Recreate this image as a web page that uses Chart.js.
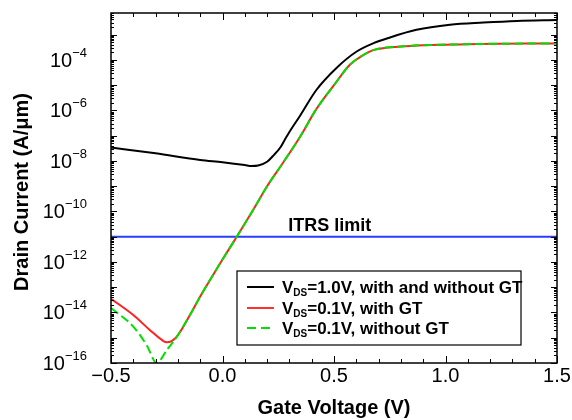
<!DOCTYPE html>
<html>
<head>
<meta charset="utf-8">
<script src="https://cdn.jsdelivr.net/npm/chart.js@4/dist/chart.umd.min.js"></script>
<style>
  html, body { margin: 0; padding: 0; background: #fff; }
  canvas { display: block; }
</style>
</head>
<body>
<canvas id="chart" width="572" height="420"></canvas>
<script>
// gate voltage (V) and drain current (A/um)
const vds10V = [-0.5, -0.3, -0.1, 0.0, 0.1, 0.13, 0.16, 0.2, 0.23, 0.26, 0.28, 0.3, 0.35, 0.42, 0.51, 0.6, 0.68, 0.74, 0.87, 1.02, 1.17, 1.32, 1.5];
const vds10I = [3.4e-8, 2.0e-8, 1.1e-8, 8.9e-9, 6.9e-9, 6.3e-9, 6.6e-9, 9.3e-9, 1.7e-8, 3.5e-8, 7.1e-8, 1.4e-7, 6.6e-7, 6.3e-6, 4.7e-5, 2.1e-4, 4.7e-4, 7.2e-4, 1.55e-3, 2.45e-3, 3.0e-3, 3.5e-3, 3.8e-3];

const withGtV = [-0.5, -0.4, -0.325, -0.265, -0.25, -0.228, -0.205, -0.146, -0.1, -0.056, 0.0, 0.064, 0.14, 0.2, 0.273, 0.348, 0.42, 0.5, 0.57, 0.62, 0.68, 0.8, 1.1, 1.5];
const withGtI = [3.5e-14, 7.9e-15, 2.0e-15, 7.4e-16, 6.6e-16, 7.4e-16, 1.1e-15, 7.9e-15, 4.3e-14, 1.95e-13, 1.26e-12, 1.0e-11, 1.26e-10, 1.0e-9, 8.9e-9, 9.1e-8, 1.1e-6, 1.0e-5, 6.3e-5, 1.35e-4, 2.5e-4, 3.4e-4, 4.2e-4, 4.5e-4];

const noGtV = [-0.5, -0.4, -0.34, -0.295, -0.25, -0.205, -0.146, -0.1, -0.056, 0.0, 0.064, 0.14, 0.2, 0.273, 0.348, 0.42, 0.5, 0.57, 0.62, 0.68, 0.8, 1.1, 1.5];
const noGtI = [1.5e-14, 2.75e-15, 5.1e-16, 1.0e-16, 3.2e-16, 1.1e-15, 7.9e-15, 4.3e-14, 1.95e-13, 1.26e-12, 1.0e-11, 1.26e-10, 1.0e-9, 8.9e-9, 9.1e-8, 1.1e-6, 1.0e-5, 6.3e-5, 1.35e-4, 2.5e-4, 3.4e-4, 4.2e-4, 4.5e-4];

const itrsV = [-0.5, 1.5];
const itrsI = [1e-11, 1e-11];

const xTicks = [-0.5, 0.0, 0.5, 1.0, 1.5];
const xTickLabels = ["\u22120.5", "0.0", "0.5", "1.0", "1.5"];
const yTickExps = [-16, -14, -12, -10, -8, -6, -4];

const legendLabels = [
    ["V", "DS", "=1.0V, with and without GT"],
    ["V", "DS", "=0.1V, with GT"],
    ["V", "DS", "=0.1V, without GT"]
];

const pts = (xs, ys) => xs.map((v, i) => ({ x: v, y: ys[i] }));
const FONT = "'Liberation Sans', Arial, Helvetica, sans-serif";

const decorations = {
    id: "decorations",
    afterDraw(chart) {
        const { ctx, chartArea: a, scales: { x, y } } = chart;
        ctx.save();

        // ITRS label
        ctx.fillStyle = "#000";
        ctx.font = "bold 18px " + FONT;
        ctx.textAlign = "left";
        ctx.textBaseline = "alphabetic";
        ctx.fillText("ITRS limit", x.getPixelForValue(0.295), y.getPixelForValue(1e-11) - 6);

        // frame
        ctx.strokeStyle = "#000";
        ctx.lineWidth = 1.5;
        ctx.strokeRect(a.left, a.top, a.right - a.left, a.bottom - a.top);

        // x ticks, inward on bottom and top
        ctx.lineWidth = 1;
        for (let i = 0; i <= 20; i++) {
            const px = Math.round(x.getPixelForValue(-0.5 + i * 0.1)) + 0.5;
            const len = i % 5 === 0 ? 7 : 4;
            ctx.beginPath();
            ctx.moveTo(px, a.bottom); ctx.lineTo(px, a.bottom - len);
            ctx.moveTo(px, a.top); ctx.lineTo(px, a.top + len);
            ctx.stroke();
        }

        // y ticks (decades + minor), inward on left and right
        for (let e = -16; e <= -3; e++) {
            for (let m = 1; m < 10; m++) {
                const v = m * Math.pow(10, e);
                if (v > y.max) break;
                const py = Math.round(y.getPixelForValue(v)) + 0.5;
                const len = m === 1 ? 6 : 3;
                ctx.beginPath();
                ctx.moveTo(a.left, py); ctx.lineTo(a.left + len, py);
                ctx.moveTo(a.right, py); ctx.lineTo(a.right - len, py);
                ctx.stroke();
            }
        }

        // x tick labels
        ctx.font = "20px " + FONT;
        ctx.textAlign = "center";
        ctx.textBaseline = "alphabetic";
        xTicks.forEach((v, i) => {
            ctx.fillText(xTickLabels[i], x.getPixelForValue(v), a.bottom + 19);
        });

        // y tick labels 10^n
        yTickExps.forEach(e => {
            const py = y.getPixelForValue(Math.pow(10, e));
            const sup = "\u2212" + Math.abs(e);
            ctx.font = "13px " + FONT;
            const sw = ctx.measureText(sup).width;
            ctx.font = "20px " + FONT;
            const bw = ctx.measureText("10").width;
            const right = 87;
            ctx.textAlign = "left";
            ctx.textBaseline = "alphabetic";
            ctx.fillText("10", right - sw - bw, py + 7);
            ctx.font = "13px " + FONT;
            ctx.fillText(sup, right - sw, py - 3);
        });

        // axis titles
        ctx.font = "bold 20px " + FONT;
        ctx.textAlign = "center";
        ctx.textBaseline = "alphabetic";
        ctx.fillText("Gate Voltage (V)", (a.left + a.right) / 2, 414);
        ctx.save();
        ctx.translate(28, 192);
        ctx.rotate(-Math.PI / 2);
        ctx.fillText("Drain Current (A/\u03bcm)", 0, 0);
        ctx.restore();

        // legend box
        const bx = 237, by = 271, bw2 = 284, bh = 74;
        ctx.fillStyle = "#fff";
        ctx.fillRect(bx, by, bw2, bh);
        ctx.strokeStyle = "#000";
        ctx.lineWidth = 1.2;
        ctx.strokeRect(bx, by, bw2, bh);

        const rows = [
            { y: 287, color: "#000", dash: [] },
            { y: 308, color: "#ff3030", dash: [] },
            { y: 328, color: "#00e000", dash: [9, 5] }
        ];
        rows.forEach((r, i) => {
            ctx.strokeStyle = r.color;
            ctx.lineWidth = 2;
            ctx.setLineDash(r.dash);
            ctx.beginPath();
            ctx.moveTo(247, r.y); ctx.lineTo(274, r.y);
            ctx.stroke();
            ctx.setLineDash([]);

            const [main, sub, rest] = legendLabels[i];
            let tx = 282;
            ctx.fillStyle = "#000";
            ctx.textAlign = "left";
            ctx.textBaseline = "alphabetic";
            ctx.font = "bold 17px " + FONT;
            ctx.fillText(main, tx, r.y + 6);
            tx += ctx.measureText(main).width;
            ctx.font = "bold 10px " + FONT;
            ctx.fillText(sub, tx, r.y + 9);
            tx += ctx.measureText(sub).width;
            ctx.font = "bold 17px " + FONT;
            ctx.fillText(rest, tx, r.y + 6);
        });

        ctx.restore();
    }
};

new Chart(document.getElementById("chart"), {
    type: "line",
    data: {
        datasets: [
            {
                label: "VDS=0.1V, without GT",
                data: pts(noGtV, noGtI),
                borderColor: "#00e000",
                borderWidth: 2,
                borderDash: [9, 4],
                pointRadius: 0,
                cubicInterpolationMode: "monotone",
                order: 0
            },
            {
                label: "VDS=0.1V, with GT",
                data: pts(withGtV, withGtI),
                borderColor: "#ff2020",
                borderWidth: 2,
                pointRadius: 0,
                cubicInterpolationMode: "monotone",
                order: 1
            },
            {
                label: "VDS=1.0V, with and without GT",
                data: pts(vds10V, vds10I),
                borderColor: "#000",
                borderWidth: 2,
                pointRadius: 0,
                cubicInterpolationMode: "monotone",
                order: 2
            },
            {
                label: "ITRS limit",
                data: pts(itrsV, itrsI),
                borderColor: "#2a3cff",
                borderWidth: 2,
                pointRadius: 0,
                order: 3
            }
        ]
    },
    options: {
        responsive: false,
        animation: false,
        devicePixelRatio: 1,
        layout: { padding: { left: 111, right: 15, top: 13, bottom: 57 } },
        plugins: {
            legend: { display: false },
            tooltip: { enabled: false }
        },
        scales: {
            x: { type: "linear", min: -0.5, max: 1.5, display: false },
            y: { type: "logarithmic", min: 1e-16, max: 7.2e-3, display: false }
        }
    },
    plugins: [decorations]
});
</script>
</body>
</html>
